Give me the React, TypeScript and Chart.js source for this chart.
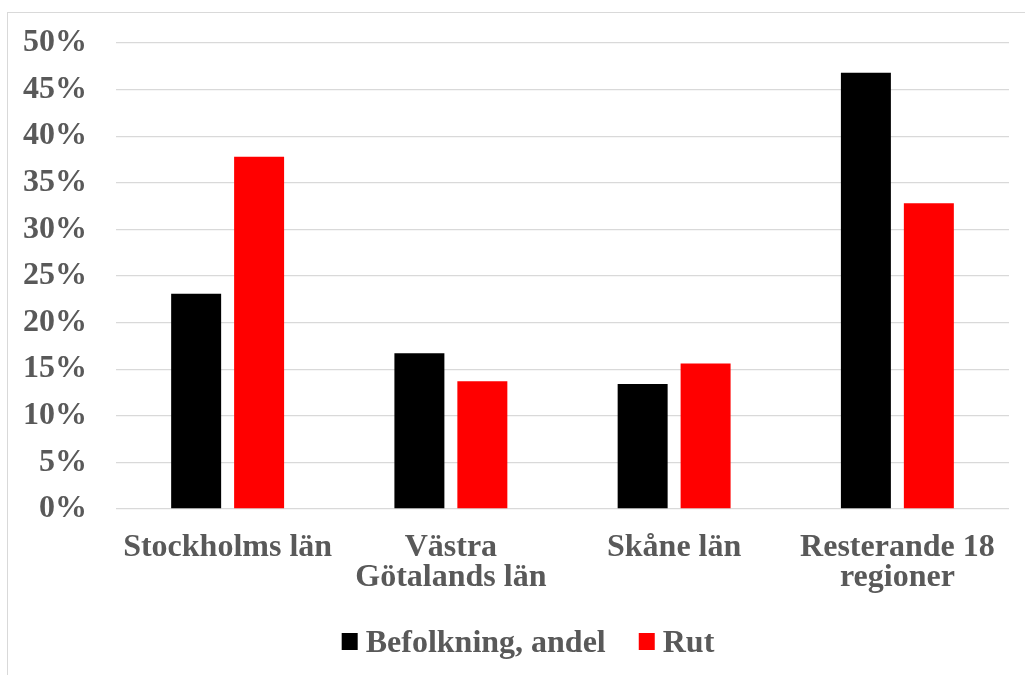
import React, { useEffect, useRef } from "react";
import { Chart, registerables } from "chart.js";

Chart.register(...registerables);

const categories: (string | string[])[] = [
  "Stockholms län",
  ["Västra", "Götalands län"],
  "Skåne län",
  ["Resterande 18", "regioner"],
];
const befolkning = [23.1, 16.7, 13.4, 46.8];
const rut = [37.8, 13.7, 15.6, 32.8];
const seriesNames = ["Befolkning, andel", "Rut"];
const yTicks = { min: 0, max: 50, step: 5 };

const FONT = "'Liberation Serif', 'Times New Roman', serif";
const TEXT = "#595959";

const legendPlugin = {
  id: "customLegend",
  afterDraw(chart: any) {
    const ctx = chart.ctx as CanvasRenderingContext2D;
    ctx.save();
    ctx.font = `bold 32px ${FONT}`;
    ctx.textBaseline = "alphabetic";
    ctx.textAlign = "left";
    const items = chart.data.datasets.map((ds: any) => ({
      label: ds.label as string,
      color: ds.backgroundColor as string,
      w: ctx.measureText(ds.label).width,
    }));
    const box = 16, gapText = 8, gapItem = 33;
    let total = 0;
    items.forEach((it: any, i: number) => {
      total += box + gapText + it.w + (i < items.length - 1 ? gapItem : 0);
    });
    let x = 528 - total / 2;
    const baseline = 652;
    items.forEach((it: any) => {
      ctx.fillStyle = it.color;
      ctx.fillRect(x, 633, box, 17);
      ctx.fillStyle = TEXT;
      ctx.fillText(it.label, x + box + gapText, baseline);
      x += box + gapText + it.w + gapItem;
    });
    ctx.restore();
  },
};

export default function App() {
  const ref = useRef<HTMLCanvasElement | null>(null);
  useEffect(() => {
    if (!ref.current) return;
    const chart = new Chart(ref.current, {
      type: "bar",
      data: {
        labels: categories,
        datasets: [
          {
            label: seriesNames[0],
            data: befolkning,
            backgroundColor: "#000000",
            categoryPercentage: 0.564,
            barPercentage: 0.794,
          },
          {
            label: seriesNames[1],
            data: rut,
            backgroundColor: "#ff0000",
            categoryPercentage: 0.564,
            barPercentage: 0.794,
          },
        ],
      },
      options: {
        animation: false,
        responsive: false,
        devicePixelRatio: 1,
        layout: { padding: { top: 43, right: 16, bottom: 0, left: 0 } },
        plugins: {
          legend: { display: false },
          tooltip: { enabled: false },
        },
        scales: {
          x: {
            grid: { display: false },
            border: { display: false },
            ticks: {
              color: TEXT,
              font: { family: FONT, size: 32, weight: "bold", lineHeight: 0.94 },
              padding: 16,
              maxRotation: 0,
              autoSkip: false,
            },
            afterFit(scale: any) {
              scale.height = 166;
              scale.paddingLeft = 0;
              scale.paddingRight = 0;
            },
          },
          y: {
            min: yTicks.min,
            max: yTicks.max,
            grid: { color: "#d9d9d9", lineWidth: 1.3, drawTicks: false },
            border: { display: false },
            ticks: {
              stepSize: yTicks.step,
              color: TEXT,
              padding: 29,
              font: { family: FONT, size: 32, weight: "bold" },
              callback: (v: any) => `${v}%`,
            },
            afterFit(scale: any) {
              scale.width = 116;
              scale.paddingTop = 0;
              scale.paddingBottom = 0;
            },
          },
        },
      },
      plugins: [legendPlugin],
    });
    return () => chart.destroy();
  }, []);

  return (
    <div
      style={{
        position: "absolute",
        left: 0,
        top: 0,
        width: 1025,
        height: 675,
        overflow: "hidden",
        background: "#ffffff",
      }}
    >
      <div
        style={{
          position: "absolute",
          left: 7,
          top: 12,
          width: 1200,
          height: 900,
          border: "1px solid #d9d9d9",
          boxSizing: "border-box",
        }}
      />
      <canvas
        ref={ref}
        width={1025}
        height={675}
        style={{ position: "absolute", left: 0, top: 0, width: 1025, height: 675 }}
      />
    </div>
  );
}
